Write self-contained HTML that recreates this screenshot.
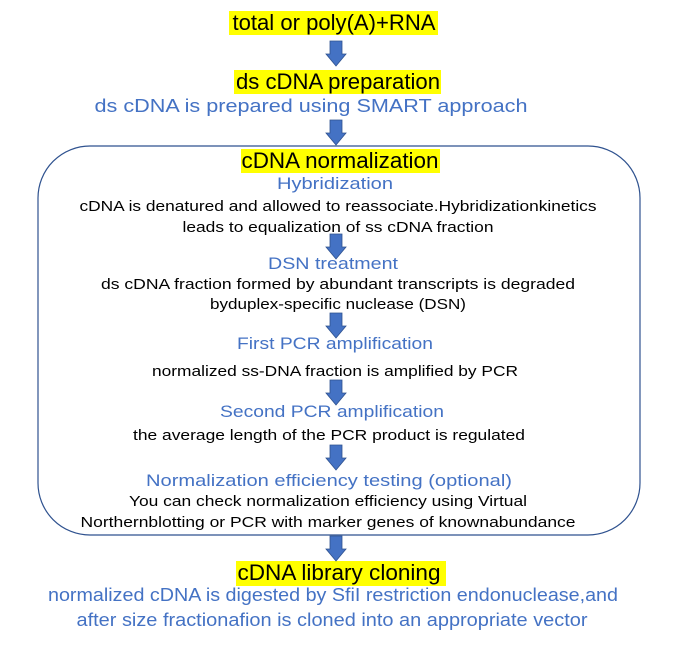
<!DOCTYPE html>
<html><head><meta charset="utf-8"><style>
html,body{margin:0;padding:0;background:#fff;width:675px;height:649px;overflow:hidden}
svg text{font-family:"Liberation Sans","Noto Sans CJK SC",sans-serif}
.t{font-size:22px;fill:#000}
.b{font-size:18px;fill:#4472C4}
.s{font-size:17px;fill:#4472C4}
.k{font-size:15px;fill:#000}
</style></head><body>
<svg width="675" height="649" viewBox="0 0 675 649" xmlns="http://www.w3.org/2000/svg">
<defs>
<g id="ar"><path d="M-6,0 H6 V13 H10 L0,25 L-10,13 H-6 Z" fill="#4472C4" stroke="#2F528F" stroke-width="0.8"/></g>
</defs>
<rect x="38" y="146" width="602" height="389" rx="52" ry="52" fill="none" stroke="#2F528F" stroke-width="1.2"/>
<rect x="229" y="11" width="209" height="24" fill="#FFFF00"/>
<rect x="234" y="70" width="207" height="24" fill="#FFFF00"/>
<rect x="241" y="149" width="199" height="24" fill="#FFFF00"/>
<rect x="236" y="561" width="210" height="25" fill="#FFFF00"/>
<use href="#ar" x="336" y="41"/>
<use href="#ar" x="336" y="120"/>
<use href="#ar" x="336" y="234"/>
<use href="#ar" x="336" y="313"/>
<use href="#ar" x="336" y="380"/>
<use href="#ar" x="336" y="445"/>
<use href="#ar" x="336" y="536"/>
<text class="t" x="334" y="30" text-anchor="middle" textLength="203" lengthAdjust="spacingAndGlyphs">total or poly(A)+RNA</text>
<text class="t" x="338" y="89" text-anchor="middle" textLength="204" lengthAdjust="spacingAndGlyphs">ds cDNA preparation</text>
<text class="b" x="311" y="112" text-anchor="middle" textLength="433" lengthAdjust="spacingAndGlyphs">ds cDNA is prepared using SMART approach</text>
<text class="t" x="340" y="168" text-anchor="middle" textLength="197" lengthAdjust="spacingAndGlyphs">cDNA normalization</text>
<text class="s" x="335" y="189" text-anchor="middle" textLength="116" lengthAdjust="spacingAndGlyphs">Hybridization</text>
<text class="k" x="338" y="211" text-anchor="middle" textLength="517" lengthAdjust="spacingAndGlyphs">cDNA is denatured and allowed to reassociate.Hybridizationkinetics</text>
<text class="k" x="338" y="232" text-anchor="middle" textLength="311" lengthAdjust="spacingAndGlyphs">leads to equalization of ss cDNA fraction</text>
<text class="s" x="333" y="269" text-anchor="middle" textLength="130" lengthAdjust="spacingAndGlyphs">DSN treatment</text>
<text class="k" x="338" y="289" text-anchor="middle" textLength="474" lengthAdjust="spacingAndGlyphs">ds cDNA fraction formed by abundant transcripts is degraded</text>
<text class="k" x="338" y="309" text-anchor="middle" textLength="256" lengthAdjust="spacingAndGlyphs">byduplex-specific nuclease (DSN)</text>
<text class="s" x="335" y="349" text-anchor="middle" textLength="196" lengthAdjust="spacingAndGlyphs">First PCR amplification</text>
<text class="k" x="335" y="376" text-anchor="middle" textLength="366" lengthAdjust="spacingAndGlyphs">normalized ss-DNA fraction is amplified by PCR</text>
<text class="s" x="332" y="417" text-anchor="middle" textLength="224" lengthAdjust="spacingAndGlyphs">Second PCR amplification</text>
<text class="k" x="329" y="440" text-anchor="middle" textLength="392" lengthAdjust="spacingAndGlyphs">the average length of the PCR product is regulated</text>
<text class="s" x="329" y="486" text-anchor="middle" textLength="366" lengthAdjust="spacingAndGlyphs">Normalization efficiency testing (optional)</text>
<text class="k" x="328" y="506" text-anchor="middle" textLength="398" lengthAdjust="spacingAndGlyphs">You can check normalization efficiency using Virtual</text>
<text class="k" x="328" y="527" text-anchor="middle" textLength="495" lengthAdjust="spacingAndGlyphs">Northernblotting or PCR with marker genes of knownabundance</text>
<text class="t" x="339" y="580" text-anchor="middle" textLength="203" lengthAdjust="spacingAndGlyphs">cDNA library cloning</text>
<text class="b" x="333" y="601" text-anchor="middle" textLength="570" lengthAdjust="spacingAndGlyphs">normalized cDNA is digested by SfiI restriction endonuclease,and</text>
<text class="b" x="332" y="626" text-anchor="middle" textLength="511" lengthAdjust="spacingAndGlyphs">after size fractionafion is cloned into an appropriate vector</text>
</svg>
</body></html>
